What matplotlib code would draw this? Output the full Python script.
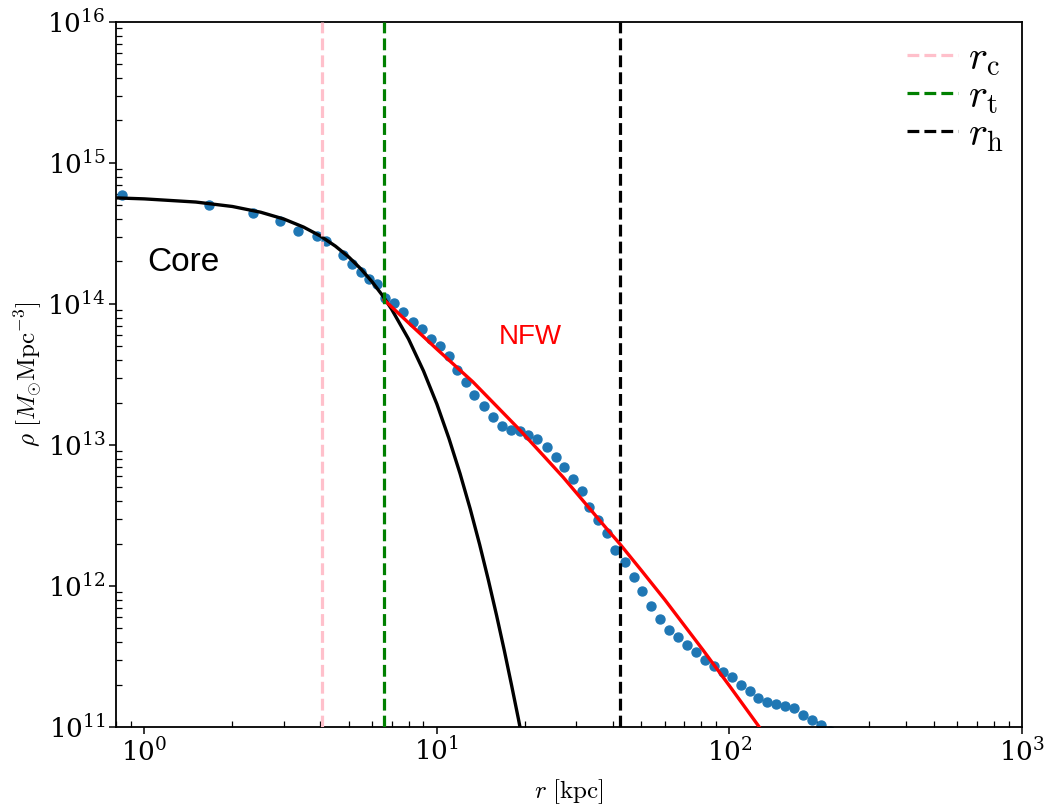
import matplotlib
matplotlib.use("Agg")
import matplotlib.pyplot as plt
import numpy as np

# simulated density profile (blue points)
r_data = [0.836, 1.662, 2.353, 2.905, 3.357, 3.879, 4.174, 4.783, 5.110, 5.498,
          5.855, 6.236, 6.658, 7.156, 7.670, 8.260, 8.865, 9.517, 10.24, 10.96,
          11.68, 12.57, 13.44, 14.44, 15.51, 16.68, 17.93, 19.22, 20.52, 22.02,
          23.71, 25.46, 27.24, 29.24, 31.39, 33.17, 35.60, 38.04, 40.60, 43.93,
          47.16, 50.35, 53.90, 57.86, 62.27, 66.83, 71.73, 77.00, 82.47, 88.51,
          95.24, 101.7, 109.2, 117.5, 125.4, 134.6, 144.2, 154.8, 166.2, 178.8,
          191.9, 205.5, 220.6]
rho_data = [5.95e14, 5.05e14, 4.42e14, 3.90e14, 3.27e14, 3.02e14, 2.78e14, 2.21e14, 1.92e14, 1.68e14,
            1.51e14, 1.39e14, 1.10e14, 1.01e14, 8.79e13, 7.47e13, 6.60e13, 5.67e13, 5.03e13, 4.27e13,
            3.39e13, 2.81e13, 2.26e13, 1.88e13, 1.59e13, 1.36e13, 1.28e13, 1.25e13, 1.18e13, 1.10e13,
            9.60e12, 8.25e12, 6.93e12, 5.74e12, 4.69e12, 3.66e12, 2.94e12, 2.37e12, 1.81e12, 1.48e12,
            1.16e12, 9.20e11, 7.17e11, 5.87e11, 4.91e11, 4.35e11, 3.80e11, 3.43e11, 2.98e11, 2.71e11,
            2.46e11, 2.25e11, 1.98e11, 1.81e11, 1.61e11, 1.51e11, 1.45e11, 1.41e11, 1.36e11, 1.22e11,
            1.12e11, 1.03e11, 9.4e10]

# core (soliton) curve
r_core = [0.8, 1.0, 1.5, 2.0, 2.5, 3.0, 3.5, 4.0, 4.5, 5.0, 5.5, 6.0, 6.5, 7.0,
          8.0, 9.0, 10, 11, 12, 13, 14, 15, 16, 17, 18, 19, 20]
rho_core = [5.65e14, 5.56e14, 5.28e14, 4.91e14, 4.47e14, 4.00e14, 3.51e14, 3.03e14,
            2.57e14, 2.15e14, 1.77e14, 1.44e14, 1.157e14, 9.19e13, 5.64e13, 3.35e13,
            1.95e13, 1.11e13, 6.27e12, 3.52e12, 1.97e12, 1.10e12, 6.18e11, 3.49e11,
            1.98e11, 1.14e11, 6.57e10]

# NFW curve
r_nfw = [6.6, 8, 10, 13.28, 16, 19.22, 23, 26.97, 32, 38.42, 42.2, 50, 60,
         81.2, 100, 125.2, 140]
rho_nfw = [1.07e14, 7.35e13, 4.78e13, 2.80e13, 1.885e13, 1.276e13, 8.51e12, 5.93e12,
           3.90e12, 2.49e12, 1.99e12, 1.29e12, 8.04e11, 3.52e11, 1.96e11, 1.03e11, 7.5e10]

# characteristic radii [kpc]
r_c = 4.05
r_t = 6.6
r_h = 42.2

plt.rcParams.update({
    "mathtext.fontset": "cm",
    "font.family": "serif",
    "font.serif": ["DejaVu Serif"],
    "axes.unicode_minus": False,
})

fig = plt.figure(figsize=(10.44, 8.08), dpi=100)
ax = fig.add_axes([0.1111, 0.1002, 0.8678, 0.8727])

ax.scatter(r_data, rho_data, s=42, color="#1f77b4", zorder=2)
ax.plot(r_core, rho_core, color="black", lw=2.4, zorder=3)
ax.plot(r_nfw, rho_nfw, color="red", lw=2.4, zorder=3)

ax.axvline(r_c, color="pink", ls="--", lw=2.3, label=r"$r_{\mathrm{c}}$", zorder=4)
ax.axvline(r_t, color="green", ls="--", lw=2.3, label=r"$r_{\mathrm{t}}$", zorder=4)
ax.axvline(r_h, color="black", ls="--", lw=2.3, label=r"$r_{\mathrm{h}}$", zorder=4)

ax.text(1.365, 1.97e14, "Core", fontsize=24, color="black",
        family="Liberation Sans", ha="center", va="center")
ax.text(20.8, 5.8e13, "NFW", fontsize=20, color="red",
        family="Liberation Sans", ha="center", va="center")

ax.set_xscale("log")
ax.set_yscale("log")
ax.set_xlim(0.8, 1000)
ax.set_ylim(1e11, 1e16)

ax.tick_params(which="major", direction="out", length=5, width=1.1, pad=2.5, labelsize=19)
ax.tick_params(which="minor", direction="in", length=4, width=0.9)
for s in ax.spines.values():
    s.set_linewidth(1.3)

ax.set_xlabel(r"$r\ [\mathrm{kpc}]$", fontsize=18, labelpad=8)
ax.set_ylabel(r"$\rho\ [M_{\odot}\mathrm{Mpc}^{-3}]$", fontsize=18, labelpad=2)

ax.legend(loc="upper right", frameon=False, fontsize=29, handlelength=1.27,
          labelspacing=0.0, handletextpad=0.25, borderaxespad=0.1,
          borderpad=0.35)

fig.savefig("out.png", dpi=100)
